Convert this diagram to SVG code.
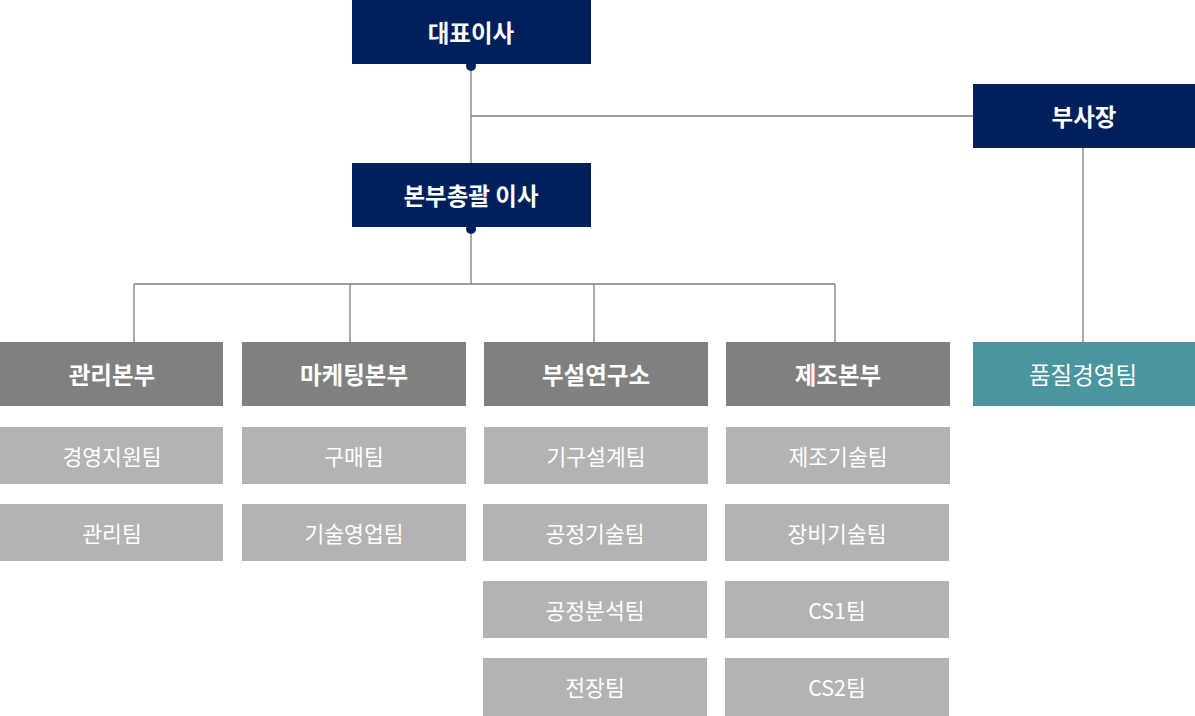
<svg xmlns="http://www.w3.org/2000/svg" width="1195" height="716" viewBox="0 0 1195 716">
<style>
.exec{fill:#00205b}
.div{fill:#808080}
.team{fill:#b3b3b3}
.qa{fill:#4a969e}
.line{stroke:#808080;stroke-width:1.3;fill:none}
.th{font-family:"Noto Sans CJK KR","Noto Sans",sans-serif;font-weight:bold;font-size:23.5px;fill:#fff;text-anchor:middle;dominant-baseline:central}
.tt{font-family:"Noto Sans CJK KR","Noto Sans",sans-serif;font-size:21.5px;fill:#fff;text-anchor:middle;dominant-baseline:central}
.tq{font-family:"Noto Sans CJK KR","Noto Sans",sans-serif;font-size:23.5px;fill:#fff;text-anchor:middle;dominant-baseline:central}
</style>
<rect width="1195" height="716" fill="#fff"/>
<g id="connectors">
<path class="line" d="M471 66V163M471 116H973M471 229V284M134 284H835M134 284V342M350 284V342M594 284V342M835 284V342M1083 148V342"/>
</g>
<g id="ceo"><rect class="exec" x="352" y="0" width="239" height="64"/><circle class="exec" cx="471" cy="66" r="5"/><text class="th" x="471" y="32">대표이사</text></g>
<g id="gm"><rect class="exec" x="352" y="163" width="239" height="64"/><circle class="exec" cx="471" cy="229" r="5"/><text class="th" x="471" y="195">본부총괄 이사</text></g>
<g id="vp"><rect class="exec" x="973" y="84" width="222" height="64"/><text class="th" x="1084" y="116">부사장</text></g>
<g id="d1"><rect class="div" x="0" y="342" width="223" height="64"/><text class="th" x="112" y="374">관리본부</text></g>
<g id="d2"><rect class="div" x="242" y="342" width="224" height="64"/><text class="th" x="354" y="374">마케팅본부</text></g>
<g id="d3"><rect class="div" x="484" y="342" width="224" height="64"/><text class="th" x="596" y="374">부설연구소</text></g>
<g id="d4"><rect class="div" x="726" y="342" width="224" height="64"/><text class="th" x="838" y="374">제조본부</text></g>
<g id="qa"><rect class="qa" x="973" y="342" width="222" height="64"/><text class="tq" x="1083" y="374">품질경영팀</text></g>
<g id="t1a"><rect class="team" x="0" y="427" width="223" height="57"/><text class="tt" x="112" y="455">경영지원팀</text></g>
<g id="t1b"><rect class="team" x="0" y="504" width="223" height="57"/><text class="tt" x="112" y="532">관리팀</text></g>
<g id="t2a"><rect class="team" x="242" y="427" width="224" height="57"/><text class="tt" x="354" y="455">구매팀</text></g>
<g id="t2b"><rect class="team" x="242" y="504" width="224" height="57"/><text class="tt" x="354" y="532">기술영업팀</text></g>
<g id="t3a"><rect class="team" x="484" y="427" width="224" height="57"/><text class="tt" x="596" y="455">기구설계팀</text></g>
<g id="t3b"><rect class="team" x="483" y="504" width="224" height="57"/><text class="tt" x="595" y="532">공정기술팀</text></g>
<g id="t3c"><rect class="team" x="483" y="581" width="224" height="57"/><text class="tt" x="595" y="609">공정분석팀</text></g>
<g id="t3d"><rect class="team" x="483" y="658" width="224" height="58"/><text class="tt" x="595" y="686">전장팀</text></g>
<g id="t4a"><rect class="team" x="726" y="427" width="224" height="57"/><text class="tt" x="838" y="455">제조기술팀</text></g>
<g id="t4b"><rect class="team" x="725" y="504" width="224" height="57"/><text class="tt" x="837" y="532">장비기술팀</text></g>
<g id="t4c"><rect class="team" x="725" y="581" width="224" height="57"/><text class="tt" x="837" y="609">CS1팀</text></g>
<g id="t4d"><rect class="team" x="725" y="658" width="224" height="58"/><text class="tt" x="837" y="686">CS2팀</text></g>
</svg>
